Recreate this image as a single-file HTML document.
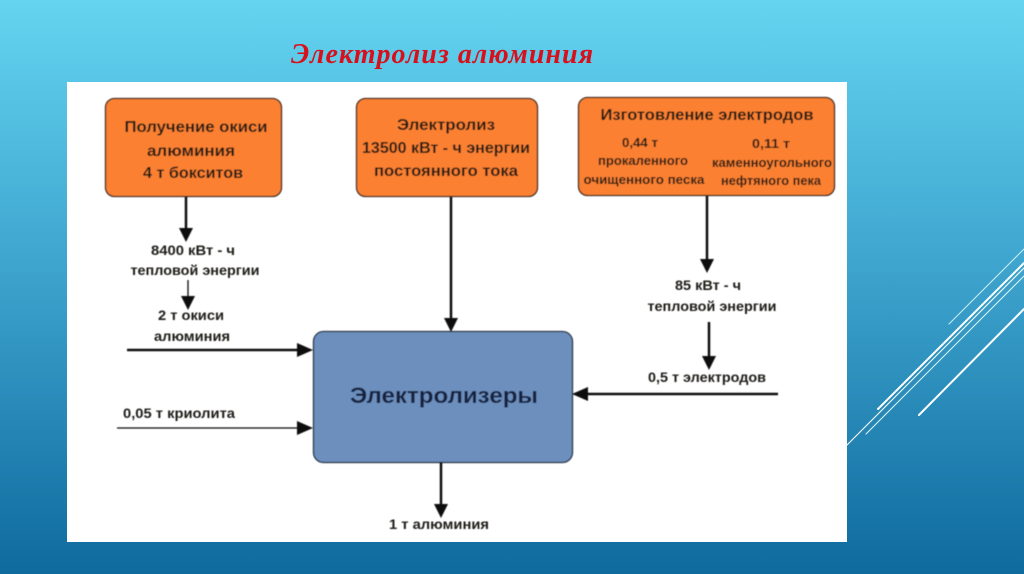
<!DOCTYPE html>
<html lang="ru">
<head>
<meta charset="utf-8">
<style>
html,body{margin:0;padding:0;width:1024px;height:574px;overflow:hidden}
svg{display:block}
.t{font-family:"Liberation Sans","DejaVu Sans",sans-serif;font-weight:bold;fill:#1f1a18;text-anchor:middle}
</style>
</head>
<body>
<svg width="1024" height="574" viewBox="0 0 1024 574" xmlns="http://www.w3.org/2000/svg">
<defs>
<linearGradient id="bg" x1="0" y1="0" x2="0" y2="1">
<stop offset="0" stop-color="#64d4f0"/>
<stop offset="0.45" stop-color="#3fa6cf"/>
<stop offset="1" stop-color="#0f6a9e"/>
</linearGradient>
<filter id="soft" x="-2%" y="-2%" width="104%" height="104%"><feGaussianBlur stdDeviation="0.45"/></filter>
</defs>
<rect width="1024" height="574" fill="url(#bg)"/>
<g stroke="#fff" stroke-linecap="round" fill="none">
<line x1="949" y1="324" x2="1024" y2="249" stroke="#cdeef8" stroke-width="1"/>
<line x1="878" y1="409" x2="1024" y2="263" stroke-width="2"/>
<line x1="847" y1="445" x2="1024" y2="268" stroke-width="1"/>
<line x1="866" y1="434" x2="1024" y2="276" stroke="#dff4fa" stroke-width="1"/>
<line x1="919" y1="415" x2="1024" y2="309" stroke-width="2"/>
</g>
<text x="442" y="63" font-family="'Liberation Serif',serif" font-size="28" font-weight="bold" font-style="italic" fill="#d8101c" text-anchor="middle" textLength="302" lengthAdjust="spacing">Электролиз алюминия</text>
<rect x="67" y="82" width="780" height="460" fill="#fff"/>
<g filter="url(#soft)">
<rect x="105.500" y="98.500" width="176" height="98" rx="9" fill="#fb8033" stroke="#3a2a20" stroke-width="1.300"/>
<rect x="356.500" y="98.500" width="181" height="98" rx="9" fill="#fb8033" stroke="#3a2a20" stroke-width="1.300"/>
<rect x="578.500" y="97.500" width="256" height="98" rx="9" fill="#fb8033" stroke="#3a2a20" stroke-width="1.300"/>
<rect x="313.500" y="331.500" width="259" height="131" rx="10" fill="#6d8fbd" stroke="#22303f" stroke-width="1.300"/>
<g stroke="#111" fill="none">
<line x1="186" y1="197" x2="186" y2="228" stroke-width="2.500"/>
<line x1="188" y1="280" x2="188" y2="298" stroke-width="1.300"/>
<line x1="451" y1="197" x2="451" y2="320" stroke-width="2.500"/>
<line x1="707" y1="196" x2="707" y2="260" stroke-width="2.500"/>
<line x1="709" y1="322" x2="709" y2="358" stroke-width="2.500"/>
<line x1="127" y1="350" x2="298" y2="350" stroke-width="2.500"/>
<line x1="117" y1="428" x2="298" y2="428" stroke-width="1.300"/>
<line x1="778" y1="394" x2="585" y2="394" stroke-width="2.500"/>
<line x1="441" y1="462" x2="441" y2="505" stroke-width="2.500"/>
</g>
<g fill="#111">
<polygon points="179,228 193,228 186,242"/>
<polygon points="181,296 195,296 188,310"/>
<polygon points="444,318 458,318 451,332"/>
<polygon points="700,259 714,259 707,273"/>
<polygon points="702,356 716,356 709,370"/>
<polygon points="297,343 297,357 313,350"/>
<polygon points="297,421 297,435 313,428"/>
<polygon points="588,387 588,401 572,394"/>
<polygon points="434,504 448,504 441,518"/>
</g>
<g>
<text class="t" x="196" y="132" font-size="15.500" textLength="143" lengthAdjust="spacingAndGlyphs">Получение окиси</text>
<text class="t" x="191" y="156" font-size="15.500" textLength="88" lengthAdjust="spacingAndGlyphs">алюминия</text>
<text class="t" x="193" y="178" font-size="15.500" textLength="100" lengthAdjust="spacingAndGlyphs">4 т бокситов</text>
<text class="t" x="446" y="130" font-size="15.500" textLength="98" lengthAdjust="spacingAndGlyphs">Электролиз</text>
<text class="t" x="446" y="153" font-size="15.500" textLength="168" lengthAdjust="spacingAndGlyphs">13500 кВт - ч энергии</text>
<text class="t" x="446" y="176" font-size="15.500" textLength="144" lengthAdjust="spacingAndGlyphs">постоянного тока</text>
<text class="t" x="707" y="120" font-size="15.500" textLength="213" lengthAdjust="spacingAndGlyphs">Изготовление электродов</text>
<text class="t" x="640" y="147" font-size="12.500" textLength="36" lengthAdjust="spacingAndGlyphs">0,44 т</text>
<text class="t" x="643" y="165" font-size="12.500" textLength="90" lengthAdjust="spacingAndGlyphs">прокаленного</text>
<text class="t" x="644" y="184" font-size="12.500" textLength="121" lengthAdjust="spacingAndGlyphs">очищенного песка</text>
<text class="t" x="771" y="148" font-size="12.500" textLength="38" lengthAdjust="spacingAndGlyphs">0,11 т</text>
<text class="t" x="772" y="167" font-size="12.500" textLength="120" lengthAdjust="spacingAndGlyphs">каменноугольного</text>
<text class="t" x="771" y="185" font-size="12.500" textLength="100" lengthAdjust="spacingAndGlyphs">нефтяного пека</text>
<text class="t" x="193" y="255" font-size="14" textLength="84" lengthAdjust="spacingAndGlyphs">8400 кВт - ч</text>
<text class="t" x="195" y="275" font-size="14" textLength="129" lengthAdjust="spacingAndGlyphs">тепловой энергии</text>
<text class="t" x="191" y="320" font-size="14" textLength="66" lengthAdjust="spacingAndGlyphs">2 т окиси</text>
<text class="t" x="192" y="341" font-size="14" textLength="76" lengthAdjust="spacingAndGlyphs">алюминия</text>
<text class="t" x="179" y="418" font-size="14" textLength="112" lengthAdjust="spacingAndGlyphs">0,05 т криолита</text>
<text class="t" x="439" y="529" font-size="14" textLength="100" lengthAdjust="spacingAndGlyphs">1 т алюминия</text>
<text class="t" x="708" y="290" font-size="14" textLength="66" lengthAdjust="spacingAndGlyphs">85 кВт - ч</text>
<text class="t" x="712" y="311" font-size="14" textLength="129" lengthAdjust="spacingAndGlyphs">тепловой энергии</text>
<text class="t" x="707" y="382" font-size="14" textLength="118" lengthAdjust="spacingAndGlyphs">0,5 т электродов</text>
<text x="444" y="403" font-family="'Liberation Sans',sans-serif" font-size="22" font-weight="bold" fill="#14233f" text-anchor="middle" textLength="188" lengthAdjust="spacingAndGlyphs">Электролизеры</text>
</g>
</g>
</svg>
</body>
</html>
